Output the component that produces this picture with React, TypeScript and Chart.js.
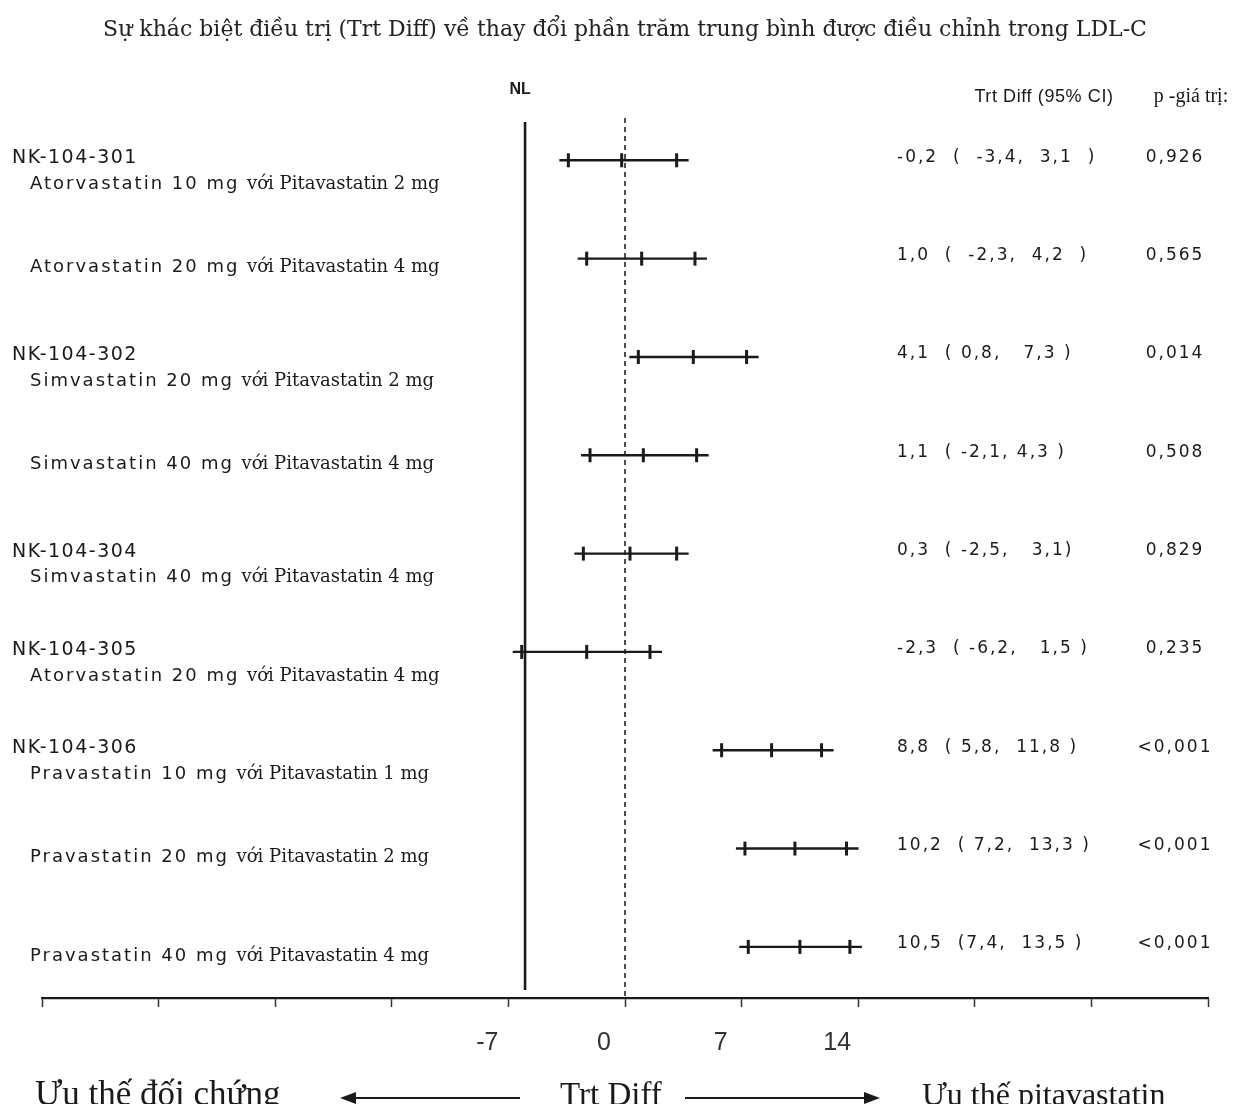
import React, { useEffect, useRef } from 'react';
import { Chart, registerables } from 'chart.js';

Chart.register(...registerables);

// ---- Data ----
const studies = ['NK-104-301', '', 'NK-104-302', '', 'NK-104-304', 'NK-104-305', 'NK-104-306', '', ''];
const comparators = [
  'Atorvastatin 10 mg',
  'Atorvastatin 20 mg',
  'Simvastatin 20 mg',
  'Simvastatin 40 mg',
  'Simvastatin 40 mg',
  'Atorvastatin 20 mg',
  'Pravastatin 10 mg',
  'Pravastatin 20 mg',
  'Pravastatin 40 mg',
];
const pitavastatinDoses = [
  'với Pitavastatin 2 mg',
  'với Pitavastatin 4 mg',
  'với Pitavastatin 2 mg',
  'với Pitavastatin 4 mg',
  'với Pitavastatin 4 mg',
  'với Pitavastatin 4 mg',
  'với Pitavastatin 1 mg',
  'với Pitavastatin 2 mg',
  'với Pitavastatin 4 mg',
];
const trtDiff = [-0.2, 1.0, 4.1, 1.1, 0.3, -2.3, 8.8, 10.2, 10.5];
const ciLow = [-3.4, -2.3, 0.8, -2.1, -2.5, -6.2, 5.8, 7.2, 7.4];
const ciHigh = [3.1, 4.2, 7.3, 4.3, 3.1, 1.5, 11.8, 13.3, 13.5];
const ciLabels = [
  '-0,2  (  -3,4,  3,1  )',
  '1,0  (  -2,3,  4,2  )',
  '4,1  ( 0,8,   7,3 )',
  '1,1  ( -2,1, 4,3 )',
  '0,3  ( -2,5,   3,1)',
  '-2,3  ( -6,2,   1,5 )',
  '8,8  ( 5,8,  11,8 )',
  '10,2  ( 7,2,  13,3 )',
  '10,5  (7,4,  13,5 )',
];
const pValues = ['0,926', '0,565', '0,014', '0,508', '0,829', '0,235', '<0,001', '<0,001', '<0,001'];
const xTickLabels = [-7, 0, 7, 14];
const nlMargin = -6;

const titleText = 'Sự khác biệt điều trị (Trt Diff) về thay đổi phần trăm trung bình được điều chỉnh trong LDL-C';

const INK = '#1a1a1a';

function setSpacing(ctx: any, s: string) {
  if ('letterSpacing' in ctx) ctx.letterSpacing = s;
}

function drawArrow(ctx: CanvasRenderingContext2D, x1: number, x2: number, y: number) {
  const dir = Math.sign(x2 - x1);
  ctx.beginPath();
  ctx.moveTo(x1, y);
  ctx.lineTo(x2 - dir * 12, y);
  ctx.stroke();
  ctx.beginPath();
  ctx.moveTo(x2, y);
  ctx.lineTo(x2 - dir * 16, y - 6);
  ctx.lineTo(x2 - dir * 16, y + 6);
  ctx.closePath();
  ctx.fill();
}

const forestPlugin = {
  id: 'forest',
  beforeDatasetsDraw(chart: any) {
    const { ctx, chartArea, scales } = chart;
    const x = scales.x;
    const y = scales.y;
    ctx.save();
    // zero reference (dashed)
    const x0 = x.getPixelForValue(0);
    ctx.strokeStyle = '#222';
    ctx.lineWidth = 1.6;
    ctx.setLineDash([5, 4]);
    ctx.beginPath();
    ctx.moveTo(x0, chartArea.top - 2);
    ctx.lineTo(x0, chartArea.bottom);
    ctx.stroke();
    ctx.setLineDash([]);
    // non-inferiority limit (solid)
    const xn = x.getPixelForValue(nlMargin);
    ctx.strokeStyle = INK;
    ctx.lineWidth = 2.6;
    ctx.beginPath();
    ctx.moveTo(xn, chartArea.top + 2);
    ctx.lineTo(xn, chartArea.bottom - 8);
    ctx.stroke();
    // CI whiskers
    ctx.lineWidth = 2.4;
    trtDiff.forEach((_, i) => {
      const yy = y.getPixelForValue(i);
      ctx.beginPath();
      ctx.moveTo(x.getPixelForValue(ciLow[i]) - 9, yy);
      ctx.lineTo(x.getPixelForValue(ciHigh[i]) + 12, yy);
      ctx.stroke();
    });
    ctx.restore();
  },
  afterDraw(chart: any) {
    const { ctx, chartArea, scales } = chart;
    const x = scales.x;
    const y = scales.y;
    ctx.save();
    ctx.fillStyle = INK;
    ctx.textBaseline = 'middle';

    // headers
    ctx.textAlign = 'center';
    setSpacing(ctx, '0px');
    ctx.font = 'bold 16px "Liberation Sans Narrow", "Liberation Sans", sans-serif';
    ctx.fillText('NL', x.getPixelForValue(nlMargin) - 5, chartArea.top - 30);
    ctx.font = '18px "Liberation Sans Narrow", "Liberation Sans", sans-serif';
    setSpacing(ctx, '0.6px');
    ctx.fillText('Trt Diff (95% CI)', 1036, chartArea.top - 23);
    setSpacing(ctx, '0px');
    ctx.font = '20px "Liberation Serif", serif';
    ctx.fillText('p -giá trị:', 1183, chartArea.top - 23);

    // row labels
    trtDiff.forEach((_, i) => {
      const yy = y.getPixelForValue(i);
      const hasStudy = studies[i] !== '';
      ctx.textAlign = 'left';
      if (hasStudy) {
        ctx.font = '19px "DejaVu Sans", sans-serif';
        setSpacing(ctx, '1.5px');
        ctx.fillText(studies[i], 4, yy - 2);
      }
      const cy = hasStudy ? yy + 24 : yy + 9;
      ctx.font = '18px "DejaVu Sans", sans-serif';
      setSpacing(ctx, '2px');
      const left = 22;
      ctx.fillText(comparators[i], left, cy);
      const w = ctx.measureText(comparators[i] + ' ').width;
      ctx.font = '18px "DejaVu Serif", serif';
      setSpacing(ctx, '0px');
      ctx.fillText(pitavastatinDoses[i], left + w, cy);

      // right columns
      ctx.font = '17px "DejaVu Sans", sans-serif';
      setSpacing(ctx, '2px');
      ctx.fillText(ciLabels[i], 889, yy - 3);
      ctx.textAlign = 'center';
      ctx.fillText(pValues[i], 1167, yy - 3);
    });
    setSpacing(ctx, '0px');

    // bottom direction labels
    const baseline = 1097;
    ctx.textBaseline = 'alphabetic';
    ctx.textAlign = 'left';
    ctx.font = '35px "Liberation Serif", serif';
    ctx.fillText('Ưu thế đối chứng', 27, baseline);
    ctx.font = '33px "Liberation Serif", serif';
    ctx.fillText('Trt Diff', 552, baseline);
    ctx.font = '32px "Liberation Serif", serif';
    ctx.fillText('Ưu thế pitavastatin', 914, baseline);
    ctx.strokeStyle = INK;
    ctx.lineWidth = 2;
    drawArrow(ctx, 512, 332, 1090);
    drawArrow(ctx, 677, 872, 1090);
    ctx.restore();
  },
};

export default function App() {
  const canvasRef = useRef<HTMLCanvasElement | null>(null);

  useEffect(() => {
    if (!canvasRef.current) return;
    const markerStyle = {
      showLine: false,
      pointStyle: 'line' as const,
      rotation: 90,
      pointRadius: 7,
      pointHoverRadius: 7,
      borderWidth: 3,
      borderColor: INK,
      backgroundColor: INK,
    };
    const chart = new Chart(canvasRef.current, {
      type: 'scatter',
      data: {
        datasets: [
          { label: 'Trt Diff', data: trtDiff.map((v, i) => ({ x: v, y: i })), ...markerStyle },
          { label: 'CI low', data: ciLow.map((v, i) => ({ x: v, y: i })), ...markerStyle },
          { label: 'CI high', data: ciHigh.map((v, i) => ({ x: v, y: i })), ...markerStyle },
        ],
      },
      options: {
        animation: false,
        responsive: true,
        maintainAspectRatio: false,
        layout: { padding: { left: 34, right: 26, top: 0, bottom: 44 } },
        plugins: {
          legend: { display: false },
          tooltip: { enabled: false },
          title: {
            display: true,
            text: titleText,
            color: '#222',
            font: { family: '"DejaVu Serif", serif', size: 22, weight: 'normal' },
            padding: { top: 9, bottom: 76.6 },
          },
        },
        scales: {
          x: {
            type: 'linear',
            min: -35,
            max: 35,
            afterFit: (scale: any) => {
              scale.height = 70;
            },
            ticks: {
              stepSize: 7,
              autoSkip: false,
              maxRotation: 0,
              padding: 21,
              labelOffset: -21,
              color: '#333',
              font: { family: '"Liberation Sans Narrow", "Liberation Sans", sans-serif', size: 25 },
              callback: (v: any) => (xTickLabels.includes(Number(v)) ? String(v) : ''),
            },
            grid: {
              drawOnChartArea: false,
              drawTicks: true,
              tickLength: 9,
              tickWidth: 1.5,
              color: '#333',
            },
            border: { display: true, color: INK, width: 2.2 },
          },
          y: {
            type: 'linear',
            min: -0.41,
            max: 8.52,
            reverse: true,
            display: false,
          },
        },
      },
      plugins: [forestPlugin],
    });
    return () => chart.destroy();
  }, []);

  return (
    <div style={{ width: 1226, height: 1104, marginBottom: -8, position: 'relative' }}>
      <canvas ref={canvasRef} />
    </div>
  );
}
